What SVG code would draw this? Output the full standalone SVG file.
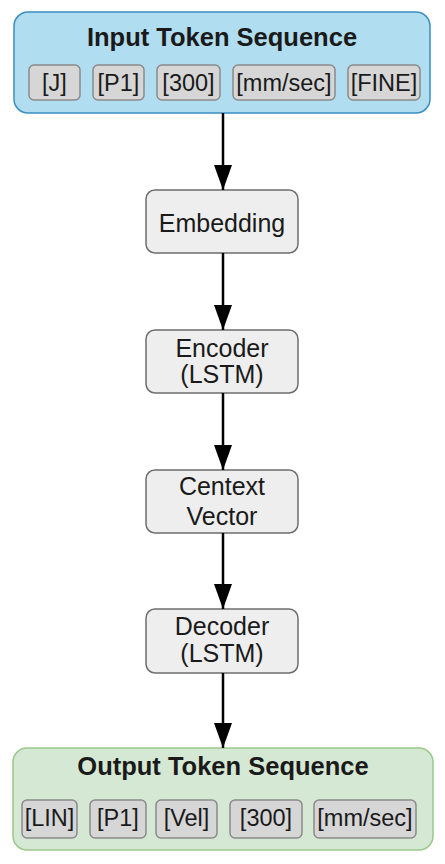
<svg xmlns="http://www.w3.org/2000/svg" width="445" height="864" viewBox="0 0 445 864">
<style>
.t{font-family:"Liberation Sans",Arial,sans-serif;fill:#1a1a1a;text-anchor:middle}
.title{font-size:25.5px;font-weight:bold}
.tok{font-size:23.5px}
.node{font-size:25px}
.tokbox{fill:#d6d6d6;stroke:#8a8a8a;stroke-width:1.5}
.mid{fill:#eeeeee;stroke:#6e6e6e;stroke-width:1.5}
.edge{stroke:#000;stroke-width:2.5;fill:none;marker-end:url(#arr)}
</style>
<defs>
<marker id="arr" markerUnits="userSpaceOnUse" markerWidth="26" markerHeight="18" refX="25" refY="9" orient="auto" viewBox="0 0 26 18">
<polygon points="0,0 25,9 0,18" fill="#000"/>
</marker>
</defs>
<rect width="445" height="864" fill="#fff"/>
<g id="input">
<rect x="14" y="12" width="416" height="101" rx="14" fill="#b1ddf0" stroke="#3a8fc0" stroke-width="1.5"/>
<text class="t title" x="222" y="46">Input Token Sequence</text>
<rect class="tokbox" x="29" y="65" width="51" height="35" rx="5"/>
<text class="t tok" x="54.5" y="91" fill="#444">[J]</text>
<rect class="tokbox" x="93" y="65" width="51" height="35" rx="5"/>
<text class="t tok" x="118.5" y="91">[P1]</text>
<rect class="tokbox" x="157" y="65" width="63" height="35" rx="5"/>
<text class="t tok" x="188.5" y="91">[300]</text>
<rect class="tokbox" x="233" y="65" width="102" height="35" rx="5"/>
<text class="t tok" x="284" y="91">[mm/sec]</text>
<rect class="tokbox" x="348" y="65" width="72" height="35" rx="5"/>
<text class="t tok" x="384" y="91">[FINE]</text>
</g>
<g id="embedding">
<rect class="mid" x="146" y="190" width="152" height="63" rx="9"/>
<text class="t node" x="222" y="232">Embedding</text>
</g>
<g id="encoder">
<rect class="mid" x="146" y="330" width="152" height="63" rx="9"/>
<text class="t node" x="222" y="357">Encoder</text>
<text class="t node" x="222" y="383">(LSTM)</text>
</g>
<g id="context">
<rect class="mid" x="146" y="470" width="152" height="63" rx="9"/>
<text class="t node" x="222" y="495">Centext</text>
<text class="t node" x="222" y="525">Vector</text>
</g>
<g id="decoder">
<rect class="mid" x="146" y="609" width="152" height="64" rx="9"/>
<text class="t node" x="222" y="635">Decoder</text>
<text class="t node" x="222" y="662">(LSTM)</text>
</g>
<g id="output">
<rect x="13" y="748" width="420" height="102" rx="14" fill="#d5e8d4" stroke="#9cc88a" stroke-width="1.5"/>
<text class="t title" x="223" y="775">Output Token Sequence</text>
<rect class="tokbox" x="22" y="800" width="55" height="38" rx="5"/>
<text class="t tok" x="49.5" y="826">[LIN]</text>
<rect class="tokbox" x="90" y="800" width="56" height="38" rx="5"/>
<text class="t tok" x="118" y="826">[P1]</text>
<rect class="tokbox" x="156" y="800" width="61" height="38" rx="5"/>
<text class="t tok" x="186.5" y="826">[Vel]</text>
<rect class="tokbox" x="230" y="800" width="72" height="38" rx="5"/>
<text class="t tok" x="266" y="826">[300]</text>
<rect class="tokbox" x="314" y="800" width="102" height="38" rx="5"/>
<text class="t tok" x="365" y="826">[mm/sec]</text>
</g>
<g id="connectors">
<line class="edge" x1="223" y1="113" x2="223" y2="190"/>
<line class="edge" x1="223" y1="253" x2="223" y2="330"/>
<line class="edge" x1="223" y1="393" x2="223" y2="470"/>
<line class="edge" x1="223" y1="533" x2="223" y2="609"/>
<line class="edge" x1="223" y1="673" x2="223" y2="748"/>
</g>
</svg>
